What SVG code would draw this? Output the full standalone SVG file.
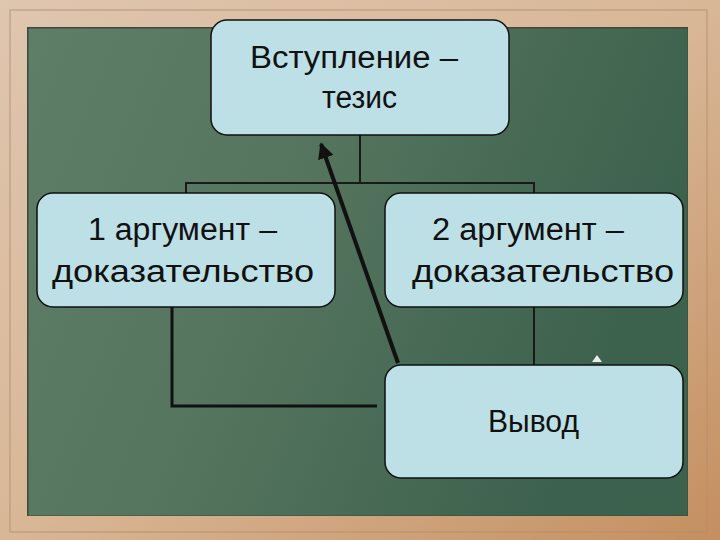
<svg xmlns="http://www.w3.org/2000/svg" width="720" height="540" viewBox="0 0 720 540">
<defs>
<linearGradient id="board" x1="0" y1="0" x2="1" y2="0.3">
<stop offset="0" stop-color="#5f7e68"/>
<stop offset="0.45" stop-color="#56755f"/>
<stop offset="1" stop-color="#3c614c"/>
</linearGradient>
<linearGradient id="wood" x1="0" y1="0" x2="1" y2="1">
<stop offset="0" stop-color="#dfc6af"/>
<stop offset="0.5" stop-color="#d8b797"/>
<stop offset="1" stop-color="#c48f60"/>
</linearGradient>
<marker id="ah" viewBox="0 0 10 10" refX="9" refY="5" markerWidth="4" markerHeight="4" orient="auto" markerUnits="strokeWidth">
<path d="M0,0 L10,5 L0,10 z" fill="#111"/>
</marker>
<style>
.box{fill:#bde0e6;stroke:#111;stroke-width:1.5}
.t{font-family:"Liberation Sans",Arial,sans-serif;font-size:31px;fill:#111}
.thin{stroke:#1a1a1a;stroke-width:2;fill:none}
.thick{stroke:#111;stroke-width:3;fill:none}
</style>
</defs>
<g id="frame">
<rect x="0" y="0" width="720" height="540" fill="url(#wood)"/>
<rect x="10" y="10" width="697" height="522" fill="none" stroke="#b88e6a" stroke-width="1.5" opacity="0.6"/>
<rect x="27" y="27" width="661" height="489" fill="#3a4a3c"/>
<rect x="28.5" y="28.5" width="659" height="487" fill="url(#board)"/>
</g>
<g id="connectors">
<polyline class="thin" points="360,135 360,183"/>
<polyline class="thin" points="186,193 186,183 534,183 534,193"/>
<polyline class="thick" points="172,307 172,406 377,406"/>
<polyline class="thin" stroke-width="2.5" points="534,307 534,365"/>
<polygon points="592,362 597,355 602,362" fill="#e8eee8"/>
<line x1="398" y1="363" x2="321" y2="144" stroke="#111" stroke-width="4" marker-end="url(#ah)"/>
</g>
<g id="node-intro">
<rect class="box" x="211" y="20" width="298" height="115" rx="16"/>
<text class="t" x="250" y="68" textLength="208" lengthAdjust="spacingAndGlyphs">Вступление –</text>
<text class="t" x="322" y="108" textLength="75" lengthAdjust="spacingAndGlyphs">тезис</text>
</g>
<g id="node-arg1">
<rect class="box" x="37" y="193" width="298" height="114" rx="16"/>
<text class="t" x="88" y="240" textLength="189" lengthAdjust="spacingAndGlyphs">1 аргумент –</text>
<text class="t" x="52" y="282" textLength="262" lengthAdjust="spacingAndGlyphs">доказательство</text>
</g>
<g id="node-arg2">
<rect class="box" x="385" y="193" width="298" height="114" rx="16"/>
<text class="t" x="432" y="240" textLength="192" lengthAdjust="spacingAndGlyphs">2 аргумент –</text>
<text class="t" x="412" y="282" textLength="262" lengthAdjust="spacingAndGlyphs">доказательство</text>
</g>
<g id="node-conclusion">
<rect class="box" x="385" y="365" width="298" height="113" rx="16"/>
<text class="t" x="488" y="432" textLength="91" lengthAdjust="spacingAndGlyphs">Вывод</text>
</g>
</svg>
